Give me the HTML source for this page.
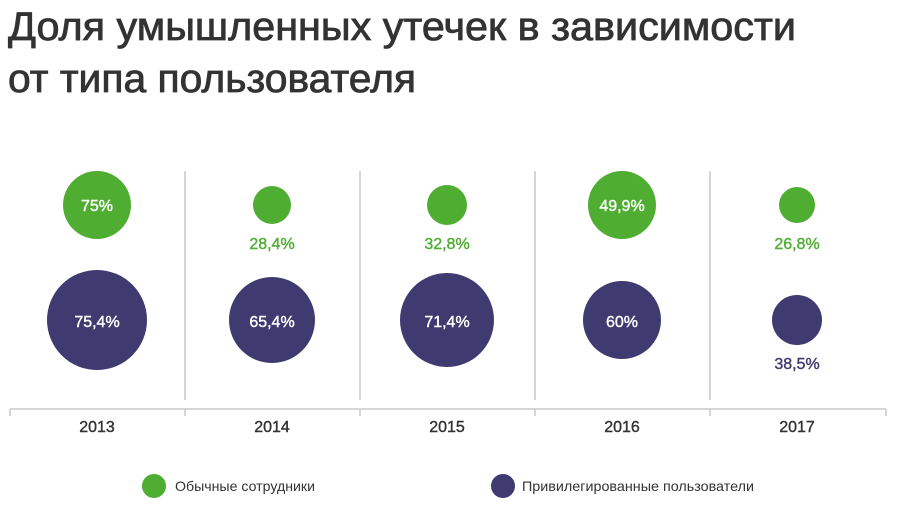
<!DOCTYPE html>
<html><head><meta charset="utf-8"><style>
body{margin:0;background:#fff;width:900px;height:505px;overflow:hidden;font-family:"Liberation Sans",sans-serif}
</style></head><body>
<svg width="900" height="505" xmlns="http://www.w3.org/2000/svg" font-family="Liberation Sans, sans-serif">
<g fill="#333" stroke="#333" stroke-width="0.8" font-size="40">
<text x="8" y="40" textLength="788" lengthAdjust="spacingAndGlyphs">Доля умышленных утечек в зависимости</text>
<text x="8" y="92" textLength="408" lengthAdjust="spacingAndGlyphs">от типа пользователя</text>
</g>
<g stroke="#c8c8c8" stroke-width="1.5">
<line x1="185" y1="171" x2="185" y2="400"/><line x1="360" y1="171" x2="360" y2="400"/>
<line x1="535" y1="171" x2="535" y2="400"/><line x1="710" y1="171" x2="710" y2="400"/>
<line x1="10" y1="409" x2="886" y2="409"/>
<line x1="10" y1="409" x2="10" y2="416"/><line x1="185" y1="409" x2="185" y2="416"/>
<line x1="360" y1="409" x2="360" y2="416"/><line x1="535" y1="409" x2="535" y2="416"/>
<line x1="710" y1="409" x2="710" y2="416"/><line x1="886" y1="409" x2="886" y2="416"/>
</g>
<g fill="#4fad32">
<circle cx="97" cy="205" r="34"/><circle cx="272" cy="205" r="19"/><circle cx="447" cy="205" r="20"/>
<circle cx="622" cy="205" r="34"/><circle cx="797" cy="205" r="18"/>
<circle cx="154" cy="486" r="12"/>
</g>
<g fill="#3f3a70">
<circle cx="97" cy="320" r="50"/><circle cx="272" cy="320" r="43"/><circle cx="447" cy="320" r="47"/>
<circle cx="622" cy="320" r="39"/><circle cx="797" cy="320" r="25"/>
<circle cx="503" cy="486" r="12"/>
</g>
<g font-size="16" text-anchor="middle" stroke-width="0.4">
<g fill="#fff" stroke="#fff">
<text x="97" y="211">75%</text><text x="622" y="211">49,9%</text>
<text x="97" y="327">75,4%</text><text x="272" y="327">65,4%</text><text x="447" y="327">71,4%</text><text x="622" y="327">60%</text>
</g>
<g fill="#4fad32" stroke="#4fad32"><text x="272" y="249">28,4%</text><text x="447" y="249">32,8%</text><text x="797" y="249">26,8%</text></g>
<text x="797" y="369" fill="#3f3a70" stroke="#3f3a70">38,5%</text>
<g fill="#333" stroke="#333"><text x="97" y="432">2013</text><text x="272" y="432">2014</text><text x="447" y="432">2015</text><text x="622" y="432">2016</text><text x="797" y="432">2017</text></g>
</g>
<g font-size="14" fill="#333">
<text x="175" y="491" textLength="140" lengthAdjust="spacingAndGlyphs">Обычные сотрудники</text>
<text x="522" y="491" textLength="232" lengthAdjust="spacingAndGlyphs">Привилегированные пользователи</text>
</g>
</svg>
</body></html>
